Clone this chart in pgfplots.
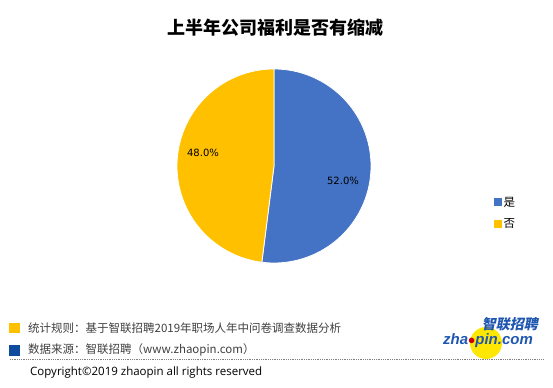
\documentclass[border=0pt]{standalone}
\usepackage{fontspec}
\usepackage{pgfplots}
\usepackage{pgfplotstable}
\pgfplotsset{compat=1.18}
\setmainfont{Noto Sans CJK SC}
\newfontfamily\numfont{DejaVu Sans}
\newfontfamily\copyfont{Open Sans}
\newfontfamily\logofont{Liberation Sans}
\definecolor{pieblue}{HTML}{4472C4}
\definecolor{pieyellow}{HTML}{FFC000}
\definecolor{darkblue}{HTML}{0F4C9E}
\definecolor{logoblue}{HTML}{1F57B0}
\definecolor{foottext}{HTML}{404040}

\pgfplotstableread{
value
52.0
48.0
}\piedata

\begin{document}
\begin{tikzpicture}
\pgfplotstablegetelem{0}{value}\of\piedata \let\va\pgfplotsretval
\pgfplotstablegetelem{1}{value}\of\piedata \let\vb\pgfplotsretval
\pgfmathsetmacro\angA{90-3.6*\va}
\pgfmathsetmacro\angB{\angA-3.6*\vb}
\path[use as bounding box, fill=white] (0,0) rectangle (553bp,388bp);
\begin{axis}[
  scale only axis, width=553bp, height=388bp,
  xmin=0, xmax=553, ymin=0, ymax=388,
  hide axis, clip=false,
  legend style={at={(axis cs:494,175)}, anchor=west, draw=none, fill=none,
    font=\fontsize{11.5bp}{13bp}\selectfont, row sep=8bp, inner sep=0pt,
    nodes={inner sep=1.5bp}},
  legend cell align=left,
]
\addplot[fill=pieblue, draw=white, line width=0.8pt, domain=\angA:90, samples=150, variable=\t,
  legend image code/.code={\fill[pieblue] (0bp,-3.5bp) rectangle (7bp,3.5bp);}]
  ({274+97*cos(\t)},{222+97*sin(\t)}) -- (axis cs:274,222) -- cycle;
\addlegendentry{是}
\addplot[fill=pieyellow, draw=white, line width=0.8pt, domain=\angB:\angA, samples=150, variable=\t,
  legend image code/.code={\fill[pieyellow] (0bp,-3.5bp) rectangle (7bp,3.5bp);}]
  ({274+97*cos(\t)},{222+97*sin(\t)}) -- (axis cs:274,222) -- cycle;
\addlegendentry{否}
% percent labels
\node[font=\numfont\fontsize{10bp}{11bp}\selectfont] at (axis cs:203,235)
  {\pgfmathprintnumber[fixed, fixed zerofill, precision=1, assume math mode=true]{\vb}\%};
\node[font=\numfont\fontsize{10bp}{11bp}\selectfont] at (axis cs:343,207)
  {\pgfmathprintnumber[fixed, fixed zerofill, precision=1, assume math mode=true]{\va}\%};
% title
\node[font=\bfseries\fontsize{18bp}{20bp}\selectfont] at (axis cs:275,360) {上半年公司福利是否有缩减};
% footer
\fill[pieyellow] (axis cs:9,55) rectangle (axis cs:20,65);
\fill[darkblue] (axis cs:9,32) rectangle (axis cs:20,43);
\node[anchor=west, inner sep=0pt, text=foottext, font=\fontsize{11.5bp}{13bp}\selectfont] at (axis cs:28,60)
  {统计规则：基于智联招聘2019年职场人年中问卷调查数据分析};
\node[anchor=west, inner sep=0pt, text=foottext, font=\fontsize{11.5bp}{13bp}\selectfont] at (axis cs:28,38)
  {数据来源：智联招聘（www.zhaopin.com）};
\draw[gray, densely dotted, line width=0.8pt] (axis cs:10,29) -- (axis cs:543,29);
\node[anchor=west, inner sep=0pt, text=black, font=\copyfont\fontsize{11.5bp}{13bp}\selectfont] at (axis cs:30,15)
  {Copyright©2019 zhaopin all rights reserved};
% logo
\fill[yellow!90!orange] (axis cs:486,45) circle[radius=16bp];
\node[anchor=center, inner sep=0pt, text=logoblue, font=\bfseries\fontsize{14bp}{15bp}\selectfont, xslant=0.2] at (axis cs:511,64) {智联招聘};
\node[anchor=center, inner sep=0pt, text=logoblue, font=\logofont\bfseries\itshape\fontsize{15bp}{16bp}\selectfont] at (axis cs:488,47) {zha\textcolor{red!80!black}{\Large$\bullet$}pin.com};
\end{axis}
\end{tikzpicture}
\end{document}
